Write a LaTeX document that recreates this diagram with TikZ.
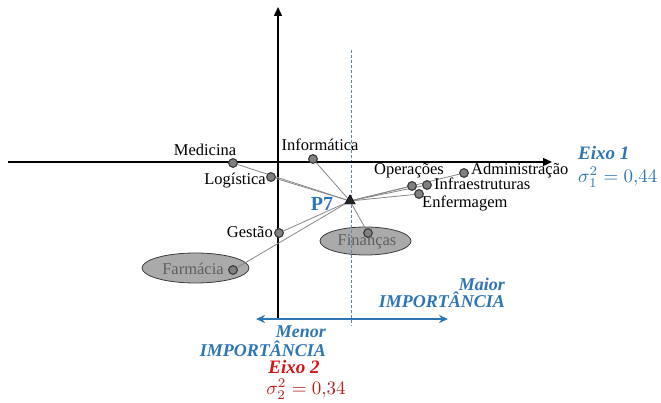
\documentclass[tikz,border=0pt]{standalone}
\usepackage{graphicx}
\usepackage{fontspec}
\setmainfont{Liberation Serif}
\usetikzlibrary{arrows.meta,shapes.geometric}
\definecolor{axisblue}{RGB}{46,117,182}
\definecolor{axisred}{RGB}{215,20,20}
\definecolor{varred}{RGB}{185,30,30}
\definecolor{dashblue}{RGB}{95,130,175}
\definecolor{dotfill}{RGB}{128,128,128}
\definecolor{dotedge}{RGB}{60,60,60}
\definecolor{linkgray}{RGB}{135,135,135}
\definecolor{ellfill}{RGB}{170,170,170}
\definecolor{elltext}{RGB}{95,95,95}
\tikzset{
  lbl/.style={font=\fontsize{16.5}{18}\selectfont, inner sep=0pt},
  dot/.style={circle, draw=dotedge, fill=dotfill, line width=1pt, minimum size=8.5pt, inner sep=0pt},
  link/.style={draw=linkgray, line width=0.8pt},
  cluster/.style={ellipse, draw=dotedge, fill=ellfill, line width=0.8pt},
  bluetxt/.style={font=\fontsize{18}{20}\selectfont\bfseries\itshape, text=axisblue, inner sep=0pt},
  p7mark/.style={isosceles triangle, isosceles triangle apex angle=60, shape border rotate=90,
      fill=black!85, draw=black, minimum height=9pt, inner sep=0pt},
  axis/.style={line width=1.4pt, -{Triangle[length=9pt,width=8pt]}},
}
\begin{document}
\begin{tikzpicture}[x=1pt,y=-1pt]
\useasboundingbox (0,0) rectangle (661,403);

% clusters
\node[cluster, minimum width=107pt, minimum height=30pt] (farmEll) at (195.5,268) {};
\node[cluster, minimum width=91pt, minimum height=28pt] (finEll) at (365.5,241) {};
\node[lbl, text=elltext] (farmTxt) at (193,269) {Farmácia};
\node[lbl, text=elltext] (finTxt) at (367,242) {Finanças};

% reference line of P7
\coordinate (dashTop) at (351,50);
\coordinate (dashBot) at (351,326);
\draw[dashblue, line width=0.8pt, dash pattern=on 3pt off 2pt] (dashTop) -- (dashBot);

% axes
\coordinate (hStart) at (8,162);
\coordinate (hEnd) at (552,162);
\coordinate (vStart) at (278,318);
\coordinate (vEnd) at (278,7);
\draw[axis] (hStart) -- (hEnd);
\draw[axis] (vStart) -- (vEnd);

% P7
\node[p7mark] (p7) at (350,201) {};
\node[font=\fontsize{20}{22}\selectfont\bfseries, text=axisblue, inner sep=0pt] (p7lbl) at (322,204) {P7};

% variables
\node[dot] (med) at (233,163) {};
\node[dot] (inf) at (313,159) {};
\node[dot] (log) at (271,177) {};
\node[dot] (ges) at (279,233) {};
\node[dot] (far) at (233,270) {};
\node[dot] (fin) at (368,233) {};
\node[dot] (ope) at (412,186) {};
\node[dot] (ifr) at (427,185) {};
\node[dot] (enf) at (419,194) {};
\node[dot] (adm) at (464,173) {};

% links to P7, then markers redrawn on top
\foreach \v in {med,inf,log,ges,far,fin,ope,ifr,enf,adm}
  \draw[link] (p7.center) -- (\v);
\node[p7mark] at (350,201) {};
\foreach \v in {med,inf,log,ges,far,fin,ope,ifr,enf,adm}
  \node[dot] at (\v) {};

% labels
\node[lbl] (medL) at (205,150) {Medicina};
\node[lbl] (infL) at (320,145) {Informática};
\node[lbl, anchor=east] (logL) at (266,181) {Logística};
\node[lbl, anchor=east] (gesL) at (273,232) {Gestão};
\node[lbl] (opeL) at (409,171) {Operações};
\node[lbl, anchor=west] (admL) at (471,171) {Administração};
\node[lbl, anchor=west] (ifrL) at (434,184) {Infraestruturas};
\node[lbl, anchor=west] (enfL) at (422,203) {Enfermagem};

% axis 1 caption
\node[bluetxt, font=\fontsize{19}{21}\selectfont\bfseries\itshape, anchor=west] (eixo1) at (578,153) {Eixo 1};
\node[inner sep=0pt, anchor=west, text=axisblue] (var1) at (578,177) {\scalebox{1.9}{$\sigma_1^2 = 0{,}44$}};

% importance arrow
\coordinate (impL) at (256,319);
\coordinate (impR) at (448,319);
\draw[axisblue, line width=1.8pt, {Stealth[length=9pt,width=8pt]}-{Stealth[length=9pt,width=8pt]}] (impL) -- (impR);
\node[bluetxt, anchor=east] (maior) at (505,284) {Maior};
\node[bluetxt, anchor=east] (maiorI) at (505,300) {IMPORTÂNCIA};
\node[bluetxt, anchor=east] (menor) at (326,332) {Menor};
\node[bluetxt, anchor=east] (menorI) at (326,349) {IMPORTÂNCIA};

% axis 2 caption
\node[font=\fontsize{19}{21}\selectfont\bfseries\itshape, text=axisred, inner sep=0pt] (eixo2) at (294,367) {Eixo 2};
\node[inner sep=0pt, text=varred] (var2) at (306,389) {\scalebox{1.9}{$\sigma_2^2 = 0{,}34$}};
\end{tikzpicture}
\end{document}
